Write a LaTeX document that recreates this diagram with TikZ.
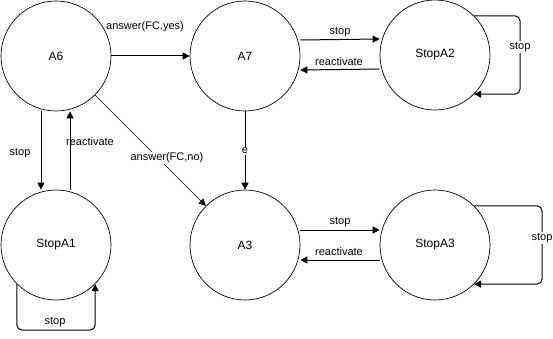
\documentclass[tikz,border=0pt]{standalone}
\usepackage{fontspec}
\setmainfont{Liberation Sans}
\usetikzlibrary{arrows.meta}
\begin{document}
\begin{tikzpicture}[x=1pt,y=-1pt,
  state/.style={circle, draw, line width=0.7pt, minimum size=110pt, inner sep=0pt,
    font=\fontsize{12}{14}\selectfont},
  edge/.style={draw, line width=1pt, -{Triangle[length=7pt,width=7pt]}},
  thinedge/.style={draw, line width=0.5pt, -{Triangle[length=7pt,width=7pt]}},
  loop/.style={edge, rounded corners=5pt},
  lbl/.style={font=\fontsize{11}{13}\selectfont, inner sep=1pt},
  onlbl/.style={lbl, fill=white},
]
\useasboundingbox (0,0) rectangle (553,339);

% states
\node[state] (A6) at (56,56) {A6};
\node[state] (A7) at (245,56) {A7};
\node[state] (StopA2) at (435,55) {StopA2};
\node[state] (StopA1) at (56,245) {StopA1};
\node[state] (A3) at (245,245) {A3};
\node[state] (StopA3) at (435,245) {StopA3};

% turning points of the self-loops
\coordinate (loop2) at (520,55);
\coordinate (loop1) at (56,330);
\coordinate (loop3) at (542,245);

% A6 transitions
\draw[edge] (A6) -- (A7);
\node[lbl] (lyes) at (145,27) {answer(FC,yes)};
\draw[edge] ([xshift=-15pt]A6.south) -- ([xshift=-15pt]StopA1.north);
\node[lbl] (lstop1) at (20,153) {stop};
\draw[edge] ([xshift=14pt]StopA1.north) -- ([xshift=14pt]A6.south);
\node[lbl] (lre1) at (90,142) {reactivate};
\draw[thinedge] (A6.south east) -- (A3.north west);
\node[onlbl] (lno) at (167,158) {answer(FC,no)};

% A7 transitions
\draw[edge] (A7) -- (A3);
\node[onlbl] (le) at (245,151) {e};
\draw[edge] ([yshift=16pt]A7.east) -- ([yshift=16pt]StopA2.west);
\node[lbl] (lstop2) at (340,32) {stop};
\draw[edge] ([yshift=-14pt]StopA2.west) -- ([yshift=-14pt]A7.east);
\node[lbl] (lre2) at (339,62) {reactivate};

% A3 transitions
\draw[edge] ([yshift=15pt]A3.east) -- ([yshift=15pt]StopA3.west);
\node[lbl] (lstop3) at (340,222) {stop};
\draw[edge] ([yshift=-15pt]StopA3.west) -- ([yshift=-15pt]A3.east);
\node[lbl] (lre3) at (339,252) {reactivate};

% self-loops
\draw[loop] (StopA2.north east) -| (loop2) |- (StopA2.south east);
\node[onlbl] (lloop2) at (520,47) {stop};
\draw[loop] (StopA1.south west) |- (loop1) -| (StopA1.south east);
\node[lbl] (lloop1) at (55,322) {stop};
\draw[loop] (StopA3.north east) -| (loop3) |- (StopA3.south east);
\node[onlbl] (lloop3) at (542,238) {stop};
\end{tikzpicture}
\end{document}
